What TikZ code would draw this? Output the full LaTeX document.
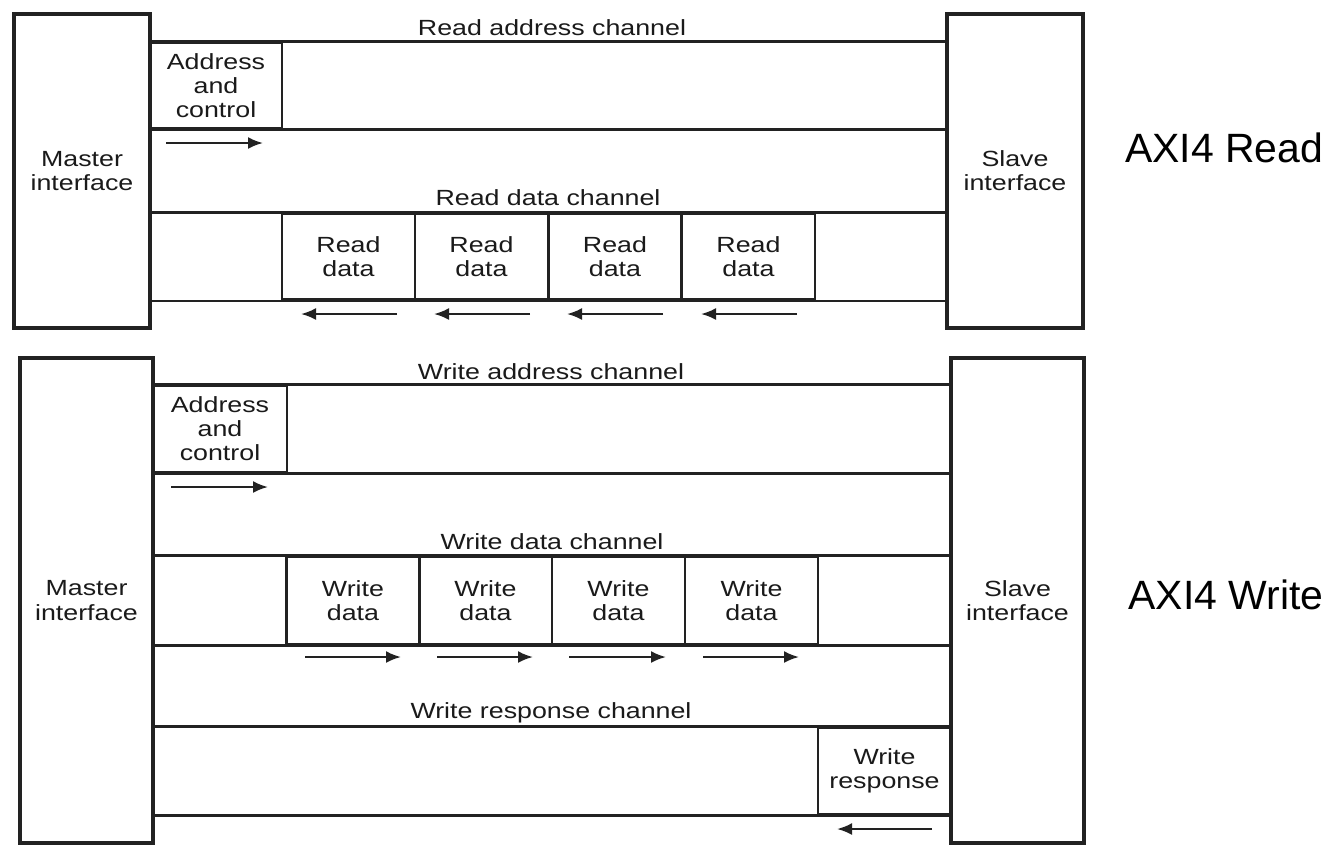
\documentclass[tikz,border=0pt]{standalone}
\usepackage{fontspec}
\setmainfont{Liberation Sans}
\newfontfamily\labfont{Liberation Sans}[FakeStretch=1.22]
\newfontfamily\bigfont{Liberation Sans}
\usetikzlibrary{arrows.meta}
\definecolor{linec}{HTML}{222222}
\definecolor{txtc}{HTML}{1A1A1A}
\newcommand{\lab}{\labfont\fontsize{12.5pt}{13.7pt}\selectfont}
\newcommand{\bigtitle}{\bigfont\fontsize{23.3pt}{26pt}\selectfont}
\begin{document}
\begin{tikzpicture}[x=0.02cm,y=-0.02cm,
  ifbox/.style={draw=linec, line width=1.9pt, inner sep=0pt, align=center, font=\lab, text=txtc},
  cell/.style={draw=linec, line width=1.6pt, inner sep=0pt, align=center, font=\lab, text=txtc,
    minimum width=2.66cm, minimum height=1.72cm},
  chan/.style={draw=linec, line width=1.6pt},
  chlabel/.style={inner sep=0pt, font=\lab, text=txtc},
  flow/.style={draw=linec, line width=1.3pt, -{Latex[length=0.3cm, width=0.24cm]}},
  title/.style={inner sep=0pt, font=\bigtitle, text=black}]
\useasboundingbox (0,0) rectangle (1337,853);

% ---------------- AXI4 Read ----------------
\node[ifbox, minimum width=2.72cm, minimum height=6.28cm] (m1) at (82,171) {Master\\interface};
\node[ifbox, minimum width=2.72cm, minimum height=6.28cm] (s1) at (1015,171) {Slave\\interface};
\node[chlabel] (ral) at (552,28) {Read address channel};
\node[cell, minimum width=2.64cm, minimum height=1.70cm] (a1) at (216,85.5) {Address\\and\\control};
\draw[chan] (m1.east |- a1.north) -- (s1.west |- a1.north);
\draw[chan] (m1.east |- a1.south) -- (s1.west |- a1.south);
\coordinate (a1s) at (166,143); \coordinate (a1e) at (263,143);
\draw[flow] (a1s) -- (a1e);

\node[chlabel] (rdl) at (548,198) {Read data channel};
\node[cell] (r1) at (348.5,256.5) {Read\\data};
\node[cell] (r2) at (481.5,256.5) {Read\\data};
\node[cell] (r3) at (615,256.5) {Read\\data};
\node[cell] (r4) at (748.5,256.5) {Read\\data};
\draw[chan] (m1.east |- r1.north) -- (s1.west |- r1.north);
\draw[chan] (m1.east |- r1.south) -- (s1.west |- r1.south);
\foreach \xs/\xe [count=\i] in {397/301, 530/434, 663/567, 797/701}{
  \coordinate (rs\i) at (\xs,314); \coordinate (re\i) at (\xe,314);
  \draw[flow] (rs\i) -- (re\i);
}
\node[title] (t1) at (1224,148) {AXI4 Read};

% ---------------- AXI4 Write ----------------
\node[ifbox, minimum width=2.66cm, minimum height=9.7cm] (m2) at (86.5,600.5) {Master\\interface};
\node[ifbox, minimum width=2.66cm, minimum height=9.7cm] (s2) at (1017.5,600.5) {Slave\\interface};
\node[chlabel] (wal) at (551,372) {Write address channel};
\node[cell, minimum width=2.68cm, minimum height=1.72cm] (a2) at (220,429) {Address\\and\\control};
\draw[chan] (m2.east |- a2.north) -- (s2.west |- a2.north);
\draw[chan] (m2.east |- a2.south) -- (s2.west |- a2.south);
\coordinate (a2s) at (171,487); \coordinate (a2e) at (268,487);
\draw[flow] (a2s) -- (a2e);

\node[chlabel] (wdl) at (552,542) {Write data channel};
\node[cell, minimum height=1.74cm] (w1) at (353,600.5) {Write\\data};
\node[cell, minimum height=1.74cm] (w2) at (485.5,600.5) {Write\\data};
\node[cell, minimum height=1.74cm] (w3) at (618.5,600.5) {Write\\data};
\node[cell, minimum height=1.74cm] (w4) at (751.5,600.5) {Write\\data};
\draw[chan] (m2.east |- w1.north) -- (s2.west |- w1.north);
\draw[chan] (m2.east |- w1.south) -- (s2.west |- w1.south);
\foreach \xs/\xe [count=\i] in {305/401, 437/533, 569/666, 703/799}{
  \coordinate (ws\i) at (\xs,657); \coordinate (we\i) at (\xe,657);
  \draw[flow] (ws\i) -- (we\i);
}

\node[chlabel] (wrl) at (551,713) {Write response channel};
\node[cell] (wr) at (884.5,771) {Write\\response};
\draw[chan] (m2.east |- wr.north) -- (s2.west |- wr.north);
\draw[chan] (m2.east |- wr.south) -- (s2.west |- wr.south);
\coordinate (wrs) at (932,829); \coordinate (wre) at (837,829);
\draw[flow] (wrs) -- (wre);

\node[title] (t2) at (1226,595) {AXI4 Write};
\end{tikzpicture}
\end{document}
